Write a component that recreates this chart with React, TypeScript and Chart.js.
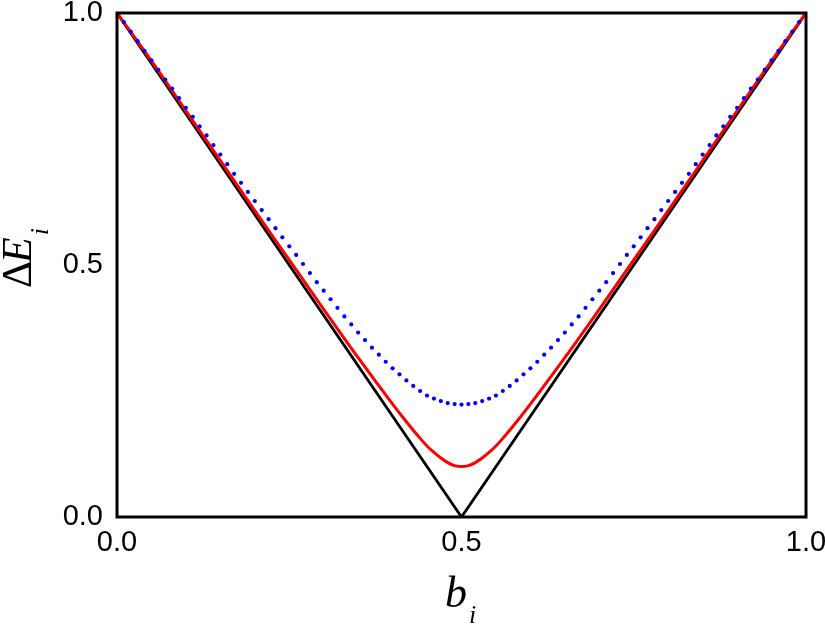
import React, { useEffect, useRef } from "react";
import { Chart, registerables } from "chart.js";

Chart.register(...registerables);

// x positions (b_i) for the dotted blue series
const bGrid: number[] = [
  0.00, 0.01, 0.02, 0.03, 0.04, 0.05, 0.06, 0.07, 0.08, 0.09,
  0.10, 0.11, 0.12, 0.13, 0.14, 0.15, 0.16, 0.17, 0.18, 0.19,
  0.20, 0.21, 0.22, 0.23, 0.24, 0.25, 0.26, 0.27, 0.28, 0.29,
  0.30, 0.31, 0.32, 0.33, 0.34, 0.35, 0.36, 0.37, 0.38, 0.39,
  0.40, 0.41, 0.42, 0.43, 0.44, 0.45, 0.46, 0.47, 0.48, 0.49,
  0.50, 0.51, 0.52, 0.53, 0.54, 0.55, 0.56, 0.57, 0.58, 0.59,
  0.60, 0.61, 0.62, 0.63, 0.64, 0.65, 0.66, 0.67, 0.68, 0.69,
  0.70, 0.71, 0.72, 0.73, 0.74, 0.75, 0.76, 0.77, 0.78, 0.79,
  0.80, 0.81, 0.82, 0.83, 0.84, 0.85, 0.86, 0.87, 0.88, 0.89,
  0.90, 0.91, 0.92, 0.93, 0.94, 0.95, 0.96, 0.97, 0.98, 0.99,
  1.00,
];

// blue dotted series (ΔE_i)
const blueValues: number[] = [
  1.000, 0.982, 0.963, 0.944, 0.925, 0.906, 0.887, 0.868, 0.850, 0.831,
  0.812, 0.794, 0.775, 0.757, 0.738, 0.719, 0.700, 0.681, 0.663, 0.645,
  0.627, 0.609, 0.591, 0.573, 0.555, 0.537, 0.520, 0.502, 0.484, 0.466,
  0.449, 0.432, 0.415, 0.398, 0.382, 0.366, 0.351, 0.336, 0.322, 0.308,
  0.295, 0.283, 0.271, 0.260, 0.250, 0.241, 0.235, 0.230, 0.226, 0.224,
  0.223,
  0.224, 0.226, 0.230, 0.235, 0.241, 0.250, 0.260, 0.271, 0.283, 0.295,
  0.308, 0.322, 0.336, 0.351, 0.366, 0.382, 0.398, 0.415, 0.432, 0.449,
  0.466, 0.484, 0.502, 0.520, 0.537, 0.555, 0.573, 0.591, 0.609, 0.627,
  0.645, 0.663, 0.681, 0.700, 0.719, 0.738, 0.757, 0.775, 0.794, 0.812,
  0.831, 0.850, 0.868, 0.887, 0.906, 0.925, 0.944, 0.963, 0.982, 1.000,
];

// red solid series
const redB: number[] = [
  0.00, 0.05, 0.10, 0.15, 0.20, 0.25, 0.30, 0.35, 0.40, 0.42, 0.44, 0.45,
  0.46, 0.47, 0.48, 0.49, 0.50, 0.51, 0.52, 0.53, 0.54, 0.55, 0.56, 0.58,
  0.60, 0.65, 0.70, 0.75, 0.80, 0.85, 0.90, 0.95, 1.00,
];
const redValues: number[] = [
  1.000, 0.905, 0.806, 0.707, 0.608, 0.510, 0.412, 0.316, 0.224, 0.189, 0.156, 0.141,
  0.128, 0.117, 0.108, 0.102, 0.100, 0.102, 0.108, 0.117, 0.128, 0.141, 0.156, 0.189,
  0.224, 0.316, 0.412, 0.510, 0.608, 0.707, 0.806, 0.905, 1.000,
];

// black V series
const blackB: number[] = [0.0, 0.5, 1.0];
const blackValues: number[] = [1.0, 0.0, 1.0];

// tick labels
const xTicks: number[] = [0.0, 0.5, 1.0];
const yTicks: number[] = [0.0, 0.5, 1.0];

const toXY = (xs: number[], ys: number[]) => xs.map((x, i) => ({ x, y: ys[i] }));

const framePlugin = {
  id: "frameAndTitles",
  afterDraw(chart: any) {
    const { ctx, chartArea } = chart;
    ctx.save();
    ctx.strokeStyle = "#000";
    ctx.lineWidth = 3;
    ctx.strokeRect(
      chartArea.left,
      chartArea.top,
      chartArea.right - chartArea.left,
      chartArea.bottom - chartArea.top
    );
    ctx.fillStyle = "#000";
    ctx.textBaseline = "alphabetic";
    ctx.textAlign = "left";
    // x title: b_i
    ctx.font = "italic 44px 'Liberation Serif'";
    ctx.fillText("b", 445, 607);
    ctx.font = "italic 26px 'Liberation Serif'";
    ctx.fillText("i", 469, 623);
    // y title: ΔE_i (rotated)
    ctx.translate(31, 288);
    ctx.rotate(-Math.PI / 2);
    ctx.font = "42px 'Liberation Serif'";
    ctx.fillText("Δ", 0, 0);
    const dw = ctx.measureText("Δ").width;
    ctx.font = "italic 42px 'Liberation Serif'";
    ctx.fillText("E", dw - 2, 0);
    const ew = ctx.measureText("E").width;
    ctx.font = "italic 26px 'Liberation Serif'";
    ctx.fillText("i", dw + ew, 17);
    ctx.restore();
  },
};

export default function App() {
  const ref = useRef<HTMLCanvasElement | null>(null);
  useEffect(() => {
    document.body.style.margin = "0";
    if (!ref.current) return;
    const chart = new Chart(ref.current, {
      type: "scatter",
      data: {
        datasets: [
          {
            label: "blue",
            data: toXY(bGrid, blueValues),
            showLine: false,
            pointRadius: 2.1,
            pointBorderWidth: 0,
            pointBackgroundColor: "#0000ff",
            backgroundColor: "#0000ff",
            borderColor: "#0000ff",
            order: 0,
          },
          {
            label: "red",
            data: toXY(redB, redValues),
            showLine: true,
            pointRadius: 0,
            borderColor: "#ff0000",
            borderWidth: 3,
            cubicInterpolationMode: "monotone",
            order: 1,
          },
          {
            label: "black",
            data: toXY(blackB, blackValues),
            showLine: true,
            pointRadius: 0,
            borderColor: "#000000",
            borderWidth: 2.8,
            order: 2,
          },
        ],
      },
      options: {
        responsive: false,
        animation: false,
        devicePixelRatio: 1,
        layout: { padding: { top: 13, right: 19, left: 0, bottom: 0 } },
        plugins: {
          legend: { display: false },
          tooltip: { enabled: false },
        },
        scales: {
          x: {
            type: "linear",
            min: 0,
            max: 1,
            grid: { display: false, drawTicks: false },
            border: { display: false },
            afterBuildTicks: (s: any) => {
              s.ticks = xTicks.map((v) => ({ value: v }));
            },
            afterFit: (s: any) => {
              s.height = 108;
              s.paddingLeft = 0;
              s.paddingRight = 0;
            },
            ticks: {
              padding: 9,
              color: "#000",
              font: { family: "'Liberation Sans'", size: 29 },
              callback: (v: any) => Number(v).toFixed(1),
            },
          },
          y: {
            type: "linear",
            min: 0,
            max: 1,
            grid: { display: false, drawTicks: false },
            border: { display: false },
            afterBuildTicks: (s: any) => {
              s.ticks = yTicks.map((v) => ({ value: v }));
            },
            afterFit: (s: any) => {
              s.width = 117;
              s.paddingTop = 0;
              s.paddingBottom = 0;
            },
            ticks: {
              padding: 14,
              color: "#000",
              font: { family: "'Liberation Sans'", size: 29 },
              callback: (v: any) => Number(v).toFixed(1),
            },
          },
        },
      },
      plugins: [framePlugin],
    });
    return () => chart.destroy();
  }, []);
  return (
    <div style={{ width: 825, height: 625, background: "#fff" }}>
      <canvas ref={ref} width={825} height={625} />
    </div>
  );
}
